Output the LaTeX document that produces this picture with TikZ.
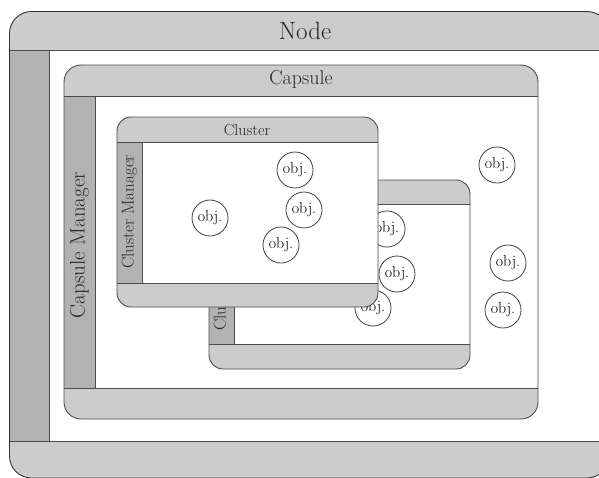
\documentclass[tikz,border=0pt]{standalone}
\usepackage{fontspec}
\setmainfont{Latin Modern Roman}
\begin{document}
\begin{tikzpicture}[x=1pt,y=-1pt,
  edge/.style={draw=black!70,line width=0.9pt},
  hdr/.style={fill=black!20},
  bar/.style={fill=black!30},
  obj/.style={circle,draw=black!75,line width=0.8pt,fill=white,minimum size=36pt,inner sep=0pt,font=\fontsize{16}{16}\selectfont},
  lbl/.style={inner sep=0pt,text=black!85}
]
\useasboundingbox (0,0) rectangle (599,477);
\clip (0,0) rectangle (599,477);
% ---------- Node ----------
\fill[hdr,rounded corners=22pt] (9.5,11.5) rectangle (609,478);
\fill[white] (49,50) rectangle (609,441);
\fill[bar] (9.5,50) rectangle (49,441);
\draw[edge,draw=black!80,rounded corners=22pt] (9.5,11.5) rectangle (609,478);
\draw[edge] (9.5,50) -- (609,50);
\draw[edge] (9.5,441) -- (609,441);
\draw[edge] (49,50) -- (49,441);
\node[lbl,font=\fontsize{25}{25}\selectfont] (nodelbl) at (305,31) {Node};
% ---------- Capsule ----------
\fill[hdr,rounded corners=17pt] (64,65) rectangle (538,419);
\fill[white] (95,96) rectangle (538,388);
\fill[bar] (64,96) rectangle (95,388);
\draw[edge,rounded corners=17pt] (64,65) rectangle (538,419);
\draw[edge] (64,96) -- (538,96);
\draw[edge] (64,388) -- (538,388);
\draw[edge] (95,96) -- (95,388);
\node[lbl,font=\fontsize{20}{20}\selectfont] (capslbl) at (301,79) {Capsule};
\node[lbl,font=\fontsize{21}{21}\selectfont,rotate=90] (capsmgr) at (79.5,245) {Capsule Manager};
% objects in capsule
\node[obj] (o1) at (497,165) {obj.};
\node[obj] (o2) at (508,263) {obj.};
\node[obj] (o3) at (503,310) {obj.};
% ---------- Cluster 2 (back) ----------
\fill[hdr,rounded corners=14pt] (209,180) rectangle (470,369);
\fill[white] (234,204) rectangle (470,344);
\fill[bar] (209,204) rectangle (234,344);
\draw[edge,rounded corners=14pt] (209,180) rectangle (470,369);
\draw[edge] (209,204) -- (470,204);
\draw[edge] (209,344) -- (470,344);
\draw[edge] (234,204) -- (234,344);
\node[lbl,font=\fontsize{17}{17}\selectfont,rotate=90] (cmgr2) at (221.5,274) {Cluster Manager};
\node[obj] (o4) at (387,229) {obj.};
\node[obj] (o5) at (397,274) {obj.};
\node[obj] (o6) at (373,308) {obj.};
% ---------- Cluster 1 (front) ----------
\fill[hdr,rounded corners=14pt] (117,117) rectangle (378,307);
\fill[white] (142,142) rectangle (378,283);
\fill[bar] (117,142) rectangle (142,283);
\draw[edge,rounded corners=14pt] (117,117) rectangle (378,307);
\draw[edge] (117,142) -- (378,142);
\draw[edge] (117,283) -- (378,283);
\draw[edge] (142,142) -- (142,283);
\node[lbl,font=\fontsize{16}{16}\selectfont] (cl1lbl) at (247,130) {Cluster};
\node[lbl,font=\fontsize{17}{17}\selectfont,rotate=90] (cmgr1) at (129.5,212) {Cluster Manager};
\node[obj] (o7) at (295,170) {obj.};
\node[obj] (o8) at (210,218) {obj.};
\node[obj] (o9) at (304,210) {obj.};
\node[obj] (o10) at (281,245) {obj.};
\end{tikzpicture}
\end{document}
